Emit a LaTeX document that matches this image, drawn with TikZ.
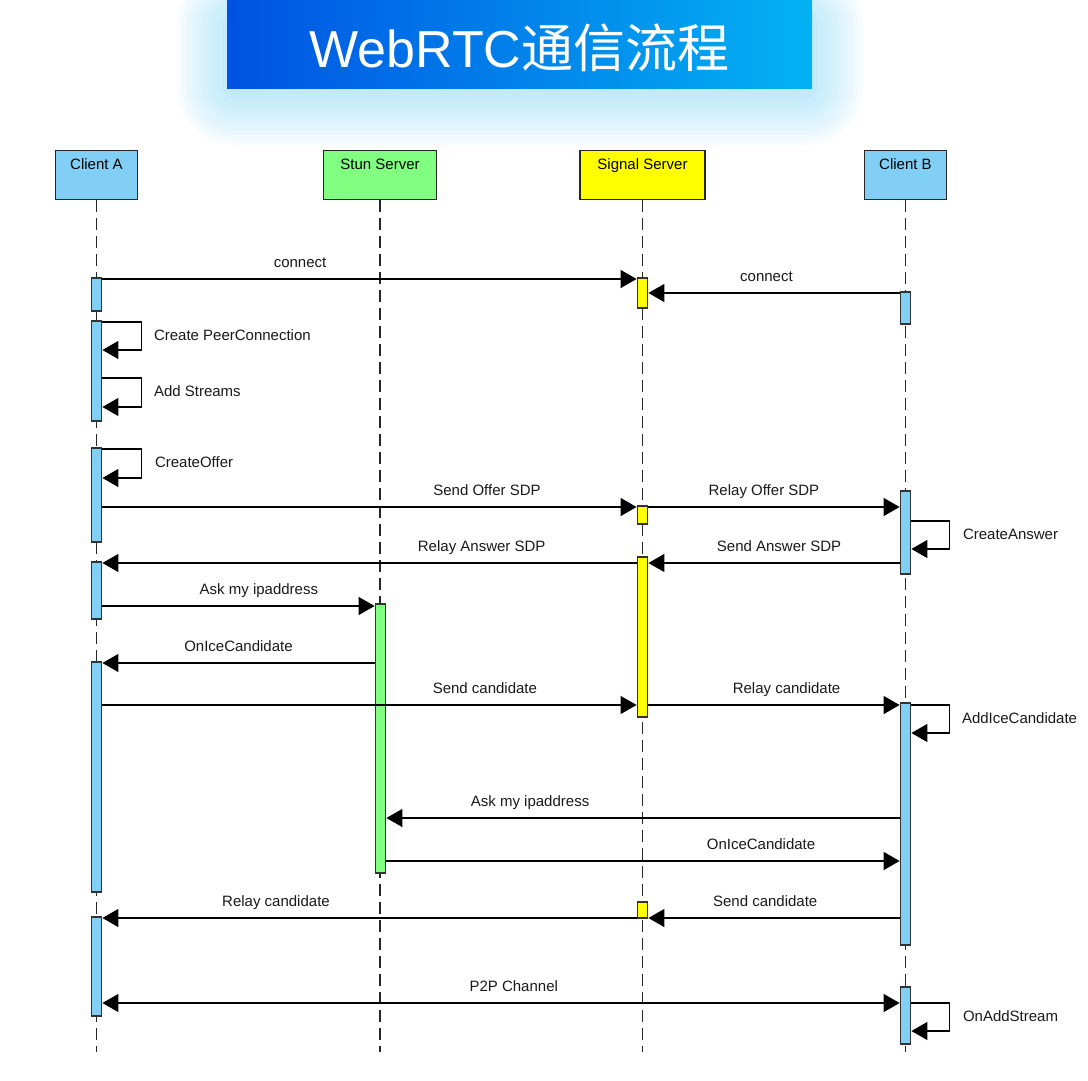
\documentclass[tikz,border=0pt]{standalone}
\usepackage{fontspec}
\setmainfont{Liberation Sans}
\newfontfamily\cjkfont{Noto Sans CJK SC}
\usetikzlibrary{arrows.meta}
\definecolor{clientblue}{HTML}{82CFF5}
\definecolor{stungreen}{HTML}{80FF80}
\definecolor{signalyellow}{HTML}{FFFF00}
\definecolor{titleleft}{HTML}{0052E2}
\definecolor{titleright}{HTML}{03B2F3}
\definecolor{glow}{HTML}{8FD9F7}

\begin{document}
\begin{tikzpicture}[x=1pt,y=-1pt,
    head/.style={draw=black!85,line width=1.3pt,anchor=north,inner xsep=0pt,inner ysep=8pt,
      text height=11pt,text depth=22pt,font=\fontsize{15}{18}\selectfont},
    actbar/.style={draw=black!80,line width=1.3pt,minimum width=10.5pt,inner sep=0pt},
    lifeline/.style={draw=black!85,line width=1.5pt,dash pattern=on 12pt off 6pt},
    msg/.style={line width=1.2pt,-{Triangle[length=16pt,width=18pt]}},
    both/.style={line width=1.2pt,{Triangle[length=16pt,width=18pt]}-{Triangle[length=16pt,width=18pt]}},
    lbl/.style={font=\fontsize{15}{18}\selectfont,text=black!90,inner sep=0pt,text height=11pt,text depth=3pt}]

  \useasboundingbox (0,0) rectangle (1088,1080);

  % title band with its glow
  \foreach \i [evaluate=\i as \r using 4+5*\i] in {0,...,11}
    \fill[glow,opacity=0.07,rounded corners=\r pt] ({232-5*\i},{22-5*\i}) rectangle ({808+5*\i},{90+5*\i});
  \node[minimum width=585pt,minimum height=88pt,inner sep=0pt,text height=46pt,text depth=0pt,
    left color=titleleft,right color=titleright,text=white,font=\fontsize{52}{60}\selectfont]
    (title) at (519.5,44) {WebRTC{\cjkfont 通信流程}};

  % heads and lifelines
  \node[head,fill=clientblue,minimum width=82pt] (ca) at (96.5,150) {Client A};
  \node[head,fill=stungreen,minimum width=113pt] (stun) at (380,150) {Stun Server};
  \node[head,fill=signalyellow,minimum width=125pt] (sig) at (642.5,150) {Signal Server};
  \node[head,fill=clientblue,minimum width=82pt] (cb) at (905.5,150) {Client B};

  \draw[lifeline] (ca) -- (ca |- 0,1052);
  \draw[lifeline] (stun) -- (stun |- 0,1052);
  \draw[lifeline] (sig) -- (sig |- 0,1052);
  \draw[lifeline] (cb) -- (cb |- 0,1052);

  % activation bars
  \node[actbar,fill=clientblue,minimum height=33pt] (a1) at (96.5,294.5) {};
  \node[actbar,fill=clientblue,minimum height=100pt] (a2) at (96.5,371) {};
  \node[actbar,fill=clientblue,minimum height=94pt] (a3) at (96.5,495) {};
  \node[actbar,fill=clientblue,minimum height=57pt] (a4) at (96.5,590.5) {};
  \node[actbar,fill=clientblue,minimum height=230pt] (a5) at (96.5,777) {};
  \node[actbar,fill=clientblue,minimum height=99pt] (a6) at (96.5,966.5) {};
  \node[actbar,fill=stungreen,minimum height=269pt] (g1) at (380.5,738.5) {};
  \node[actbar,fill=signalyellow,minimum height=30pt] (s1) at (642.5,293) {};
  \node[actbar,fill=signalyellow,minimum height=18pt] (s2) at (642.5,515) {};
  \node[actbar,fill=signalyellow,minimum height=160pt] (s3) at (642.5,637) {};
  \node[actbar,fill=signalyellow,minimum height=16pt] (s4) at (642.5,910) {};
  \node[actbar,fill=clientblue,minimum height=32pt] (b1) at (905.5,308) {};
  \node[actbar,fill=clientblue,minimum height=83pt] (b2) at (905.5,532.5) {};
  \node[actbar,fill=clientblue,minimum height=242pt] (b3) at (905.5,824) {};
  \node[actbar,fill=clientblue,minimum height=57pt] (b4) at (905.5,1015.5) {};

  % messages
  \draw[msg] (a1.east |- 0,279) -- node[lbl,above=7.5pt,pos=.37] {connect} (s1.west |- 0,279);
  \draw[msg] (b1.west |- 0,293) -- node[lbl,above=7.5pt,pos=.53] {connect} (s1.east |- 0,293);
  \draw[msg] (a2.east |- 0,322) -- ++(39,0) -- node[lbl,right=12pt] {Create PeerConnection} ++(0,28) -- (a2.east |- 0,350);
  \draw[msg] (a2.east |- 0,378) -- ++(39,0) -- node[lbl,right=12pt] {Add Streams} ++(0,29) -- (a2.east |- 0,407);
  \draw[msg] (a3.east |- 0,449) -- ++(39,0) -- node[lbl,right=13pt] {CreateOffer} ++(0,29) -- (a3.east |- 0,478);
  \draw[msg] (a3.east |- 0,507) -- node[lbl,above=7.5pt,pos=.72] {Send Offer SDP} (s2.west |- 0,507);
  \draw[msg] (s2.east |- 0,507) -- node[lbl,above=7.5pt,pos=.46] {Relay Offer SDP} (b2.west |- 0,507);
  \draw[msg] (b2.east |- 0,521) -- ++(38,0) -- node[lbl,right=13pt] {CreateAnswer} ++(0,28) -- (b2.east |- 0,549);
  \draw[msg] (b2.west |- 0,563) -- node[lbl,above=7.5pt,pos=.48] {Send Answer SDP} (s3.east |- 0,563);
  \draw[msg] (s3.west |- 0,563) -- node[lbl,above=7.5pt,pos=.29] {Relay Answer SDP} (a4.east |- 0,563);
  \draw[msg] (a4.east |- 0,606) -- node[lbl,above=7.5pt,pos=.575] {Ask my ipaddress} (g1.west |- 0,606);
  \draw[msg] (g1.west |- 0,663) -- node[lbl,above=7.5pt,pos=.5] {OnIceCandidate} (a5.east |- 0,663);
  \draw[msg] (a5.east |- 0,705) -- node[lbl,above=7.5pt,pos=.716] {Send candidate} (s3.west |- 0,705);
  \draw[msg] (s3.east |- 0,705) -- node[lbl,above=7.5pt,pos=.55] {Relay candidate} (b3.west |- 0,705);
  \draw[msg] (b3.east |- 0,705) -- ++(38,0) -- node[lbl,right=12pt] {AddIceCandidate} ++(0,28) -- (b3.east |- 0,733);
  \draw[msg] (b3.west |- 0,818) -- node[lbl,above=7.5pt,pos=.72] {Ask my ipaddress} (g1.east |- 0,818);
  \draw[msg] (g1.east |- 0,861) -- node[lbl,above=7.5pt,pos=.73] {OnIceCandidate} (b3.west |- 0,861);
  \draw[msg] (b3.west |- 0,918) -- node[lbl,above=7.5pt,pos=.535] {Send candidate} (s4.east |- 0,918);
  \draw[msg] (s4.west |- 0,918) -- node[lbl,above=7.5pt,pos=.675] {Relay candidate} (a6.east |- 0,918);
  \draw[both] (a6.east |- 0,1003) -- node[lbl,above=7.5pt,pos=.516] {P2P Channel} (b4.west |- 0,1003);
  \draw[msg] (b4.east |- 0,1003) -- ++(38,0) -- node[lbl,right=13pt] {OnAddStream} ++(0,28) -- (b4.east |- 0,1031);
\end{tikzpicture}
\end{document}
